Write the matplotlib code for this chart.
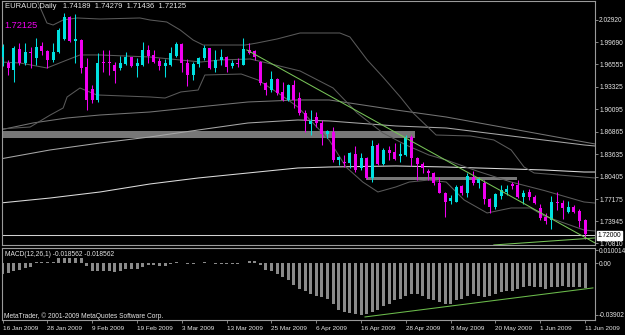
import matplotlib
matplotlib.use('Agg')
import matplotlib.pyplot as plt
import matplotlib.transforms as mtransforms
from matplotlib.patches import Rectangle
import numpy as np

W, H, DPI = 625, 335, 100

# ---------------- data ----------------
opens = [1.9760, 1.9673, 1.9573, 1.9875, 1.9673, 1.9832, 1.9745, 1.9918, 1.9846, 1.9717,
         1.9832, 2.0019, 2.0335, 1.9990, 2.0004, 1.9616, 1.9299, 1.9142, 1.9688, 1.9690,
         1.9645, 1.9601, 1.9659, 1.9760, 1.9630, 1.9645, 1.9861, 1.9789, 1.9702, 1.9630,
         1.9645, 1.9774, 1.9947, 1.9673, 1.9501, 1.9659, 1.9745, 1.9889, 1.9601, 1.9717,
         1.9760, 1.9630, 1.9673, 1.9645, 1.9861, 1.9846, 1.9688, 1.9386, 1.9285, 1.9443,
         1.9256, 1.9142, 1.9357, 1.9170, 1.8954, 1.8796, 1.8897, 1.8811, 1.8653, 1.8681,
         1.8279, 1.8250, 1.8236, 1.8365, 1.8164, 1.8308, 1.8020, 1.8495, 1.8221, 1.8423,
         1.8394, 1.8336, 1.8351, 1.8610, 1.8308, 1.8221, 1.8121, 1.8092, 1.7948, 1.7804,
         1.7689, 1.7675, 1.7905, 1.7804, 1.8034, 1.7948, 1.7948, 1.7718, 1.7603, 1.7761,
         1.7819, 1.7934, 1.7919, 1.7747, 1.7819, 1.7747, 1.7588, 1.7459, 1.7416, 1.7675,
         1.7660, 1.7531, 1.7603, 1.7545, 1.74189]
highs = [1.9947, 1.9717, 1.9918, 1.9961, 1.9961, 1.9904, 2.0033, 1.9976, 1.9861, 1.9961,
         2.0177, 2.0393, 2.0350, 2.0378, 2.0019, 1.9745, 1.9357, 1.9817, 1.9861, 1.9861,
         1.9688, 1.9774, 1.9832, 1.9765, 1.9745, 1.9976, 1.9932, 1.9861, 1.9745, 1.9731,
         1.9904, 1.9976, 1.9961, 1.9731, 1.9688, 1.9760, 1.9932, 1.9895, 1.9861, 1.9875,
         1.9774, 1.9717, 1.9745, 2.0033, 1.9961, 1.9861, 1.9702, 1.9400, 1.9558, 1.9458,
         1.9400, 1.9371, 1.9429, 1.9256, 1.8998, 1.8998, 1.8969, 1.8854, 1.8710, 1.8753,
         1.8336, 1.8351, 1.8394, 1.8480, 1.8380, 1.8322, 1.8567, 1.8523, 1.8452, 1.8480,
         1.8523, 1.8523, 1.8638, 1.8638, 1.8322, 1.8250, 1.8150, 1.8106, 1.8034, 1.7819,
         1.7775, 1.7919, 1.7919, 1.8092, 1.8121, 1.8034, 1.7991, 1.7732, 1.7804, 1.7919,
         1.7919, 1.7963, 1.7991, 1.7847, 1.7862, 1.7775, 1.7646, 1.7516, 1.7761, 1.7819,
         1.7704, 1.7689, 1.7632, 1.7574, 1.74279]
lows = [1.9630, 1.9501, 1.9400, 1.9645, 1.9645, 1.9601, 1.9645, 1.9789, 1.9601, 1.9688,
        1.9817, 2.0004, 1.9976, 1.9673, 1.9530, 1.8998, 1.9098, 1.9113, 1.9544, 1.9501,
        1.9386, 1.9573, 1.9645, 1.9616, 1.9472, 1.9630, 1.9673, 1.9673, 1.9573, 1.9472,
        1.9630, 1.9760, 1.9544, 1.9343, 1.9429, 1.9616, 1.9717, 1.9587, 1.9544, 1.9645,
        1.9544, 1.9601, 1.9616, 1.9640, 1.9803, 1.9717, 1.9357, 1.9213, 1.9256, 1.9213,
        1.9127, 1.9127, 1.9026, 1.8926, 1.8681, 1.8638, 1.8753, 1.8495, 1.8595, 1.8250,
        1.8207, 1.8178, 1.8164, 1.8106, 1.8135, 1.8006, 1.7963, 1.8207, 1.8207, 1.8279,
        1.8279, 1.8250, 1.8336, 1.8193, 1.7991, 1.8092, 1.7991, 1.7919, 1.7800, 1.7459,
        1.7646, 1.7670, 1.7775, 1.7747, 1.7919, 1.7876, 1.7646, 1.7516, 1.7574, 1.7718,
        1.7775, 1.7862, 1.7732, 1.7646, 1.7704, 1.7646, 1.7416, 1.7358, 1.7287, 1.7560,
        1.7430, 1.7516, 1.7516, 1.7315, 1.71436]
closes = [1.9904, 1.9601, 1.9889, 1.9673, 1.9832, 1.9817, 1.9904, 1.9846, 1.9717, 1.9832,
          2.0148, 2.0335, 1.9990, 2.0019, 1.9601, 1.9142, 1.9142, 1.9673, 1.9673, 1.9670,
          1.9558, 1.9673, 1.9760, 1.9630, 1.9673, 1.9861, 1.9774, 1.9688, 1.9630, 1.9673,
          1.9817, 1.9947, 1.9673, 1.9501, 1.9659, 1.9745, 1.9889, 1.9601, 1.9717, 1.9760,
          1.9616, 1.9673, 1.9659, 1.9875, 1.9817, 1.9760, 1.9386, 1.9285, 1.9443, 1.9242,
          1.9142, 1.9357, 1.9142, 1.8954, 1.8839, 1.8839, 1.8811, 1.8653, 1.8696, 1.8279,
          1.8322, 1.8236, 1.8380, 1.8135, 1.8308, 1.8020, 1.8480, 1.8221, 1.8423, 1.8380,
          1.8293, 1.8365, 1.8610, 1.8308, 1.8221, 1.8164, 1.8092, 1.7948, 1.7804, 1.7675,
          1.7732, 1.7890, 1.7804, 1.8049, 1.7948, 1.8006, 1.7718, 1.7603, 1.7790, 1.7847,
          1.7862, 1.7905, 1.7747, 1.7804, 1.7747, 1.7660, 1.7445, 1.7401, 1.7675, 1.7660,
          1.7588, 1.7603, 1.7531, 1.7401, 1.72125]

macd = [-0.0083, -0.0077, -0.0059, -0.0051, -0.0038, -0.0026, 0.0010, 0.0012, 0.0012, 0.0012,
        0.0038, 0.0043, 0.0043, 0.0043, 0.0038, -0.0018, -0.0059, -0.0059, -0.0059, -0.0057,
        -0.0064, -0.0059, -0.0046, -0.0046, -0.0046, -0.0026, -0.0013, -0.0013, -0.0018, -0.0018,
        -0.0008, 0.0010, 0.0005, -0.0003, -0.0005, 0.0003, 0.0013, 0.0005, -0.0003, -0.0002,
        -0.0003, -0.0005, -0.0003, 0.0005, 0.0018, 0.0018, -0.0010, -0.0051, -0.0059, -0.0084,
        -0.0102, -0.0128, -0.0166, -0.0197, -0.0212, -0.0232, -0.0244, -0.0256, -0.0269, -0.0305,
        -0.0349, -0.0367, -0.0374, -0.0386, -0.0390, -0.0384, -0.0367, -0.0349, -0.0324, -0.0305,
        -0.0280, -0.0269, -0.0244, -0.0232, -0.0232, -0.0244, -0.0269, -0.0280, -0.0293, -0.0305,
        -0.0305, -0.0280, -0.0269, -0.0244, -0.0232, -0.0244, -0.0256, -0.0244, -0.0232, -0.0220,
        -0.0207, -0.0207, -0.0195, -0.0182, -0.0170, -0.0178, -0.0182, -0.0195, -0.0182, -0.0178,
        -0.0170, -0.0178, -0.0182, -0.0182, -0.018562]

# Bollinger bands and moving averages, read at bar positions
bb_up_x = [3.1, 6.1, 7.9, 9.0, 10.8, 13.3, 17.4, 24.5, 26.3, 29.3, 31.7, 34.0, 35.8, 43.3, 45.4,
           49.0, 53.1, 60.2, 62.0, 65.1, 67.9, 71.0, 73.3, 77.4, 83.5, 87.7, 90.8, 93.1, 94.9,
           103.8, 105.8]
bb_up = [2.0723, 2.0580, 2.0249, 2.0220, 2.0292, 2.0321, 2.0306, 2.0321, 2.0292, 2.0263, 2.0148,
         2.0004, 1.9932, 1.9932, 1.9961, 2.0019, 2.0105, 2.0105, 2.0048, 1.9717, 1.9472, 1.9185,
         1.8954, 1.8638, 1.8624, 1.8567, 1.8423, 1.8178, 1.8092, 1.8034, 1.8020]
bb_mid_x = [-0.5, 3.1, 7.9, 11.5, 13.8, 17.4, 26.3, 31.7, 35.4, 38.8, 44.2, 47.2, 53.1, 59.0,
            63.3, 67.9, 72.0, 76.1, 79.2, 84.7, 90.8, 96.7, 103.8, 105.8]
bb_mid = [1.9688, 1.9674, 1.9602, 1.9717, 1.9789, 1.9789, 1.9760, 1.9717, 1.9688, 1.9717, 1.9731,
          1.9674, 1.9559, 1.9314, 1.8955, 1.8667, 1.8495, 1.8351, 1.8279, 1.8120, 1.7962, 1.7840,
          1.7675, 1.7660]
bb_lo_x = [-0.5, 4.9, 8.5, 10.8, 11.5, 13.8, 16.8, 26.3, 29.0, 31.8, 34.9, 36.1, 42.6, 45.6, 49.7,
           52.7, 58.3, 61.3, 64.3, 67.0, 70.2, 72.6, 76.1, 79.2, 82.4, 86.5, 90.8, 94.3, 96.7,
           103.8, 105.8]
bb_lo = [1.8725, 1.8753, 1.8926, 1.9027, 1.9185, 1.9314, 1.9214, 1.9185, 1.9170, 1.9257, 1.9285,
         1.9501, 1.9515, 1.9429, 1.9214, 1.9041, 1.8566, 1.8178, 1.7962, 1.7819, 1.7891, 1.7962,
         1.7991, 1.7962, 1.7704, 1.7517, 1.7589, 1.7589, 1.7474, 1.7272, 1.7258]
ma_a_x = [-0.5, 5.4, 11.5, 17.4, 26.3, 34.9, 43.8, 52.7, 58.3, 64.3, 70.2, 79.2, 103.8, 105.8]
ma_a = [1.8710, 1.8811, 1.8883, 1.8926, 1.8969, 1.9041, 1.9113, 1.9142, 1.9142, 1.9070, 1.8998,
        1.8897, 1.8538, 1.8509]
ma_b_x = [-0.5, 8.45, 17.4, 26.3, 34.9, 43.8, 52.7, 58.3, 70.2, 79.2, 103.8, 105.8]
ma_b = [1.8293, 1.8423, 1.8523, 1.8610, 1.8710, 1.8811, 1.8854, 1.8840, 1.8768, 1.8739, 1.8495,
        1.8480]
ma_c_x = [-0.5, 8.45, 17.4, 26.3, 34.9, 43.8, 52.7, 58.3, 70.2, 79.2, 96.7, 103.8, 105.8]
ma_c = [1.7660, 1.7732, 1.7819, 1.7934, 1.8020, 1.8092, 1.8164, 1.8178, 1.8193, 1.8178, 1.8135,
        1.8106, 1.8106]

# drawn objects: rectangles (bar from, bar to, price low, price high)
rect_x0 = [-0.5, 64.9]
rect_x1 = [73.6, 91.8]
rect_lo = [1.8588, 1.7991]
rect_hi = [1.8689, 1.8034]
hline_price = 1.72000
trend_x = [43.6, 105.8]
trend_y = [1.9861, 1.7085]
trend2_x = [87.7, 105.8]
trend2_y = [1.7057, 1.7158]
macd_trend_x = [64.7, 105.4]
macd_trend_y = [-0.0405, -0.0186]

price_ticks = [2.02920, 1.99690, 1.96555, 1.93325, 1.90095, 1.86865, 1.83635, 1.80405,
               1.77175, 1.73945, 1.70810]
macd_ticks = [0.010014, 0.0, -0.03902]
macd_tick_labels = ['0.010014', '0.00', '-0.03902']
date_pos = [0, 8, 16, 24, 32, 40, 48, 56, 64, 72, 80, 88, 96, 104]
date_labels = ['16 Jan 2009', '28 Jan 2009', '9 Feb 2009', '19 Feb 2009', '3 Mar 2009',
               '13 Mar 2009', '25 Mar 2009', '6 Apr 2009', '16 Apr 2009', '28 Apr 2009',
               '8 May 2009', '20 May 2009', '1 Jun 2009', '11 Jun 2009']

# ---------------- style ----------------
CYAN = '#00e0e0'
MAG = '#f000f0'
FRAME = '#9a9a9a'
TXT = '#e6e6e6'
FONT = 'Liberation Sans'
plt.rcParams['font.family'] = [FONT, 'DejaVu Sans']

fig = plt.figure(figsize=(W / DPI, H / DPI), dpi=DPI, facecolor='black')


def fx(px):
    return px / W


def fy(py):
    return 1 - py / H


ax = fig.add_axes([fx(2), fy(245), fx(595) - fx(2), fy(1) - fy(245)], facecolor='black')
mx = fig.add_axes([fx(2), fy(320), fx(595) - fx(2), fy(248) - fy(320)], facecolor='black')

XL = (-0.125, 105.77)
ax.set_xlim(*XL)
ax.set_ylim(1.70565, 2.0565)
mx.set_xlim(*XL)
mx.set_ylim(-0.04281, 0.01155)

for a in (ax, mx):
    for s in a.spines.values():
        s.set_color(FRAME)
        s.set_linewidth(0.8)

# rectangles (background objects)
for x0, x1, lo, hi in zip(rect_x0, rect_x1, rect_lo, rect_hi):
    ax.add_patch(Rectangle((x0, lo), x1 - x0, hi - lo, facecolor='#777777',
                           edgecolor='none', zorder=1))

# indicator lines
ax.plot(ma_c_x, ma_c, color='#dcdcdc', lw=0.75, zorder=2)
ax.plot(ma_b_x, ma_b, color='#a8a8a8', lw=0.75, zorder=2)
ax.plot(ma_a_x, ma_a, color='#747474', lw=0.75, zorder=2)
for bx, by in ((bb_up_x, bb_up), (bb_mid_x, bb_mid), (bb_lo_x, bb_lo)):
    ax.plot(bx, by, color='#5a5a5a', lw=0.75, zorder=2)

ax.axhline(hline_price, color='#d0d0d0', lw=0.75, zorder=2)

# candles
xs = np.arange(len(opens))
o = np.array(opens)
c = np.array(closes)
hh = np.array(highs)
ll = np.array(lows)
cols = np.where(c >= o, CYAN, MAG)
ax.vlines(xs, ll, hh, colors=cols, lw=0.75, zorder=3)
body_lo = np.minimum(o, c)
body_h = np.maximum(np.abs(c - o), 0.0011)
ax.bar(xs, body_h, bottom=body_lo, width=0.55, color=cols, linewidth=0, zorder=4)

# trend lines
ax.plot(trend_x, trend_y, color='#78c458', lw=0.75, zorder=5)
ax.plot(trend2_x, trend2_y, color='#78c458', lw=0.75, zorder=5)

# MACD
mx.bar(xs, macd, width=0.55, color='#8a8a8a', linewidth=0, zorder=2)
mx.plot(macd_trend_x, macd_trend_y, color='#6cbc4c', lw=0.75, zorder=3)

# axes ticks
ax.set_xticks([])
ax.yaxis.tick_right()
ax.set_yticks(price_ticks)
ax.set_yticklabels([f'{v:.5f}' for v in price_ticks])
ax.tick_params(axis='y', color=FRAME, labelcolor=TXT, labelsize=4.8, length=2, width=0.6, pad=1)

mx.yaxis.tick_right()
mx.set_yticks(macd_ticks)
mx.set_yticklabels(macd_tick_labels)
mx.tick_params(axis='y', color=FRAME, labelcolor=TXT, labelsize=4.8, length=2, width=0.6, pad=1)
mx.set_xticks(date_pos)
mx.set_xticklabels(date_labels)
for lab in mx.get_xticklabels():
    lab.set_ha('left')
mx.tick_params(axis='x', color=FRAME, labelcolor=TXT, labelsize=4.6, length=2.5, width=0.6, pad=1.5)

# current horizontal line price box
trans = mtransforms.blended_transform_factory(ax.transAxes, ax.transData)
ax.text(1.0 + 2.5 / (593), hline_price, f'{hline_price:.5f}', transform=trans, color='black',
        fontsize=4.8, va='center', ha='left', clip_on=False,
        bbox=dict(boxstyle='square,pad=0.15', facecolor='white', edgecolor='white'))

# texts
fig.text(fx(5), fy(7), 'EURAUD,Daily   1.74189  1.74279  1.71436  1.72125', color=TXT,
         fontsize=5.5, va='center', ha='left')
fig.text(fx(4), fy(25), '1.72125', color=MAG, fontsize=6.6, va='center', ha='left')
fig.text(fx(5), fy(254), 'MACD(12,26,1) -0.018562 -0.018562', color=TXT, fontsize=4.8,
         va='center', ha='left')
fig.text(fx(4), fy(316), 'MetaTrader, \u00a9 2001-2009 MetaQuotes Software Corp.', color=TXT,
         fontsize=4.8, va='center', ha='left')

fig.savefig('out.png', dpi=DPI, facecolor='black')
